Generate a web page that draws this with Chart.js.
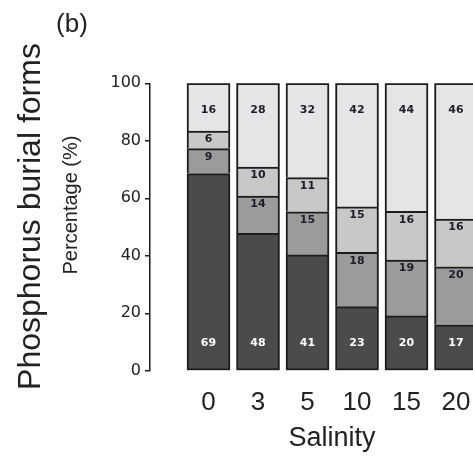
<!DOCTYPE html>
<html><head><meta charset="utf-8">
<script src="https://cdn.jsdelivr.net/npm/chart.js@4.4.0/dist/chart.umd.min.js"></script>
<style>html,body{margin:0;padding:0;background:#fff;overflow:hidden}#wrap{position:relative;width:473px;height:456px}</style>
</head><body><div id="wrap"><canvas id="c" width="473" height="456"></canvas></div>
<script>
// Categories (salinity)
const salinity = ['0', '3', '5', '10', '15', '20'];
// Segment heights (%), bottom to top
const form1 = [68.6, 47.8, 40.3, 22.3, 19.1, 16.0];
const form2 = [8.7, 13.0, 15.0, 18.9, 19.4, 20.2];
const form3 = [6.1, 10.1, 11.9, 15.8, 17.0, 16.6];
const form4 = [16.6, 29.1, 32.8, 43.0, 44.5, 47.2];
// Numbers printed inside the segments
const form1Text = [69, 48, 41, 23, 20, 17];
const form2Text = [9, 14, 15, 18, 19, 20];
const form3Text = [6, 10, 11, 15, 16, 16];
const form4Text = [16, 28, 32, 42, 44, 46];
// Y-axis ticks
const yTicks = [0, 20, 40, 60, 80, 100];

const DARK = '#1c1c1c';
const toPts = arr => arr.map((v, i) => ({ x: i, y: v }));

const labelPlugin = {
  id: 'segLabels',
  afterDatasetsDraw(chart) {
    const ctx = chart.ctx;
    chart.data.datasets.forEach((ds, di) => {
      const meta = chart.getDatasetMeta(di);
      meta.data.forEach((bar, i) => {
        const p = bar.getProps(['x', 'y', 'base'], true);
        let ty;
        if (di === 0) ty = p.base - 27;
        else if (di === 3) ty = p.y + 27;
        else ty = p.y + 8.5;
        ctx.save();
        ctx.font = 'bold 11px "DejaVu Sans"';
        ctx.fillStyle = di === 0 ? '#ffffff' : '#1e1e2a';
        ctx.textAlign = 'center';
        ctx.textBaseline = 'middle';
        ctx.fillText(String(ds.printed[i]), p.x, ty);
        ctx.restore();
      });
    });
  }
};

const textPlugin = {
  id: 'freeTexts',
  afterDraw(chart) {
    const ctx = chart.ctx;
    ctx.save();
    ctx.fillStyle = '#222222';
    // panel letter
    ctx.font = '26px "Liberation Sans"';
    ctx.textAlign = 'center';
    ctx.textBaseline = 'middle';
    ctx.fillText('(b)', 72, 25);
    // x title
    ctx.font = '27px "Liberation Sans"';
    ctx.textBaseline = 'alphabetic';
    ctx.fillText('Salinity', 332, 446);
    // big left title
    ctx.save();
    ctx.translate(40, 216.5);
    ctx.rotate(-Math.PI / 2);
    ctx.font = '32px "Liberation Sans"';
    ctx.textAlign = 'center';
    ctx.textBaseline = 'alphabetic';
    ctx.fillText('Phosphorus burial forms', 0, 0);
    ctx.restore();
    // y title
    ctx.save();
    ctx.translate(77.3, 205);
    ctx.rotate(-Math.PI / 2);
    ctx.font = '20px "Liberation Sans"';
    ctx.textAlign = 'center';
    ctx.textBaseline = 'alphabetic';
    ctx.fillText('Percentage (%)', 0, 0);
    ctx.restore();
    ctx.restore();
  }
};

const mk = (label, vals, txt, color, bottom) => ({
  label, data: toPts(vals), printed: txt,
  backgroundColor: color, borderColor: DARK, borderWidth: 2,
  borderSkipped: bottom ? false : 'start',
  barThickness: 43
});

new Chart(document.getElementById('c'), {
  type: 'bar',
  data: {
    datasets: [
      mk('Form 1', form1, form1Text, '#4b4b4b', true),
      mk('Form 2', form2, form2Text, '#9b9b9b', false),
      mk('Form 3', form3, form3Text, '#c8c8c8', false),
      mk('Form 4', form4, form4Text, '#e5e5e7', false)
    ]
  },
  options: {
    responsive: false,
    animation: false,
    layout: { padding: { top: 83.3, right: 0, bottom: 0, left: 0 } },
    plugins: { legend: { display: false }, tooltip: { enabled: false }, title: { display: false } },
    scales: {
      x: {
        type: 'linear', stacked: true, offset: false,
        min: -1.182, max: 5.343,
        grid: { display: false, drawTicks: false, offset: false },
        border: { display: false },
        afterBuildTicks: s => { s.ticks = salinity.map((_, i) => ({ value: i })); },
        afterFit: s => { s.height = 85.2; s.paddingLeft = 0; s.paddingRight = 0; },
        ticks: {
          autoSkip: false, maxRotation: 0, padding: 16, color: '#222222',
          font: { family: 'Liberation Sans', size: 26 },
          callback: v => salinity[v]
        }
      },
      y: {
        type: 'linear', stacked: true, min: 0, max: 100,
        afterBuildTicks: s => { s.ticks = yTicks.map(v => ({ value: v })); },
        afterFit: s => { s.width = 150; s.paddingTop = 0; s.paddingBottom = 0; },
        grid: { display: true, drawOnChartArea: false, drawTicks: true, tickLength: 5, color: DARK, lineWidth: 1.5 },
        border: { display: true, color: DARK, width: 1.5 },
        ticks: { padding: 4, color: '#222222', font: { family: 'DejaVu Sans', size: 16 } }
      }
    }
  },
  plugins: [labelPlugin, textPlugin]
});
</script>
</body></html>
